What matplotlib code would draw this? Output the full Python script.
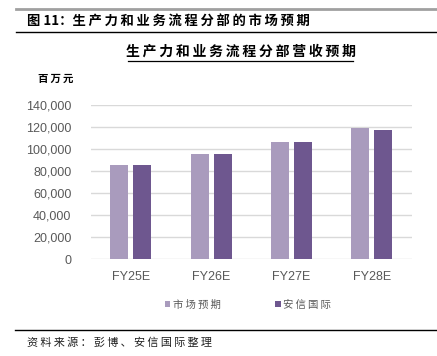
import matplotlib
matplotlib.use("Agg")
import matplotlib.pyplot as plt
from matplotlib.lines import Line2D
import numpy as np

plt.rcParams['font.family'] = ['Noto Sans CJK SC', 'DejaVu Sans']

years = ['FY25E', 'FY26E', 'FY27E', 'FY28E']
market = [85500, 95300, 106000, 119400]
essence = [85600, 95600, 106000, 117500]
series_names = ['市场预期', '安信国际']
yticks = np.arange(0, 140001, 20000)

c_light = '#A99BBD'
c_dark = '#6E578F'
W, H = 437, 356

def sp(s):
    # widen CJK text a little, like the original
    return '\u2009'.join(s)

fig = plt.figure(figsize=(W / 100, H / 100), dpi=100)
ax = fig.add_axes([90.7 / W, 1 - 259 / H, (411.7 - 90.7) / W, (259 - 105) / H])

x = np.arange(len(years))
bw = 0.225
ax.bar(x - 0.143, market, bw, color=c_light, label=sp(series_names[0]), zorder=3)
ax.bar(x + 0.143, essence, bw, color=c_dark, label=sp(series_names[1]), zorder=3)

ax.set_xlim(-0.5, len(years) - 0.5)
ax.set_ylim(0, 140000)
ax.set_yticks(yticks)
ax.set_yticklabels([f'{v:,}' for v in yticks], fontfamily='Liberation Sans',
                   fontsize=9, color='#595959')
ax.set_xticks(x)
ax.set_xticklabels(years, fontfamily='Liberation Sans', fontsize=9, color='#595959')
ax.tick_params(length=0)
ax.tick_params(axis='y', pad=14)
ax.tick_params(axis='x', pad=9)
ax.grid(axis='y', color='#D9D9D9', lw=1, zorder=0)
for s in ax.spines.values():
    s.set_visible(False)

leg = ax.legend(loc='center', bbox_to_anchor=(248 / W, 1 - 305 / H),
                bbox_transform=fig.transFigure, ncol=2, frameon=False,
                fontsize=7.5, handlelength=0.55, handleheight=0.55,
                handletextpad=0.25, columnspacing=5.2)
for t in leg.get_texts():
    t.set_color('#595959')

# header
fig.add_artist(Line2D([16 / W, 1], [1 - 9 / H] * 2, color='#A0A0A0', lw=2))
fig.add_artist(Line2D([16 / W, 1], [1 - 32 / H] * 2, color='black', lw=1))
fig.text(27 / W, 1 - 21 / H, '图 11：' + sp('生产力和业务流程分部的市场预期'),
         fontsize=9.6, fontweight='bold', va='center', ha='left')

fig.text(241 / W, 1 - 52 / H, sp('生产力和业务流程分部营收预期'),
         fontsize=10, fontweight='bold', va='center', ha='center')
fig.add_artist(Line2D([128 / W, 353 / W], [1 - 61 / H] * 2, color='black', lw=0.9))

fig.text(56 / W, 1 - 79 / H, sp('百万元'), fontsize=7.5, fontweight='bold',
         va='center', ha='center')

# footer
fig.add_artist(Line2D([15 / W, 1], [1 - 330 / H] * 2, color='black', lw=1))
fig.text(27 / W, 1 - 342 / H, sp('资料来源：彭博、安信国际整理'), fontsize=8,
         va='center', ha='left', color='#222222')

fig.savefig('out.png', dpi=100)
